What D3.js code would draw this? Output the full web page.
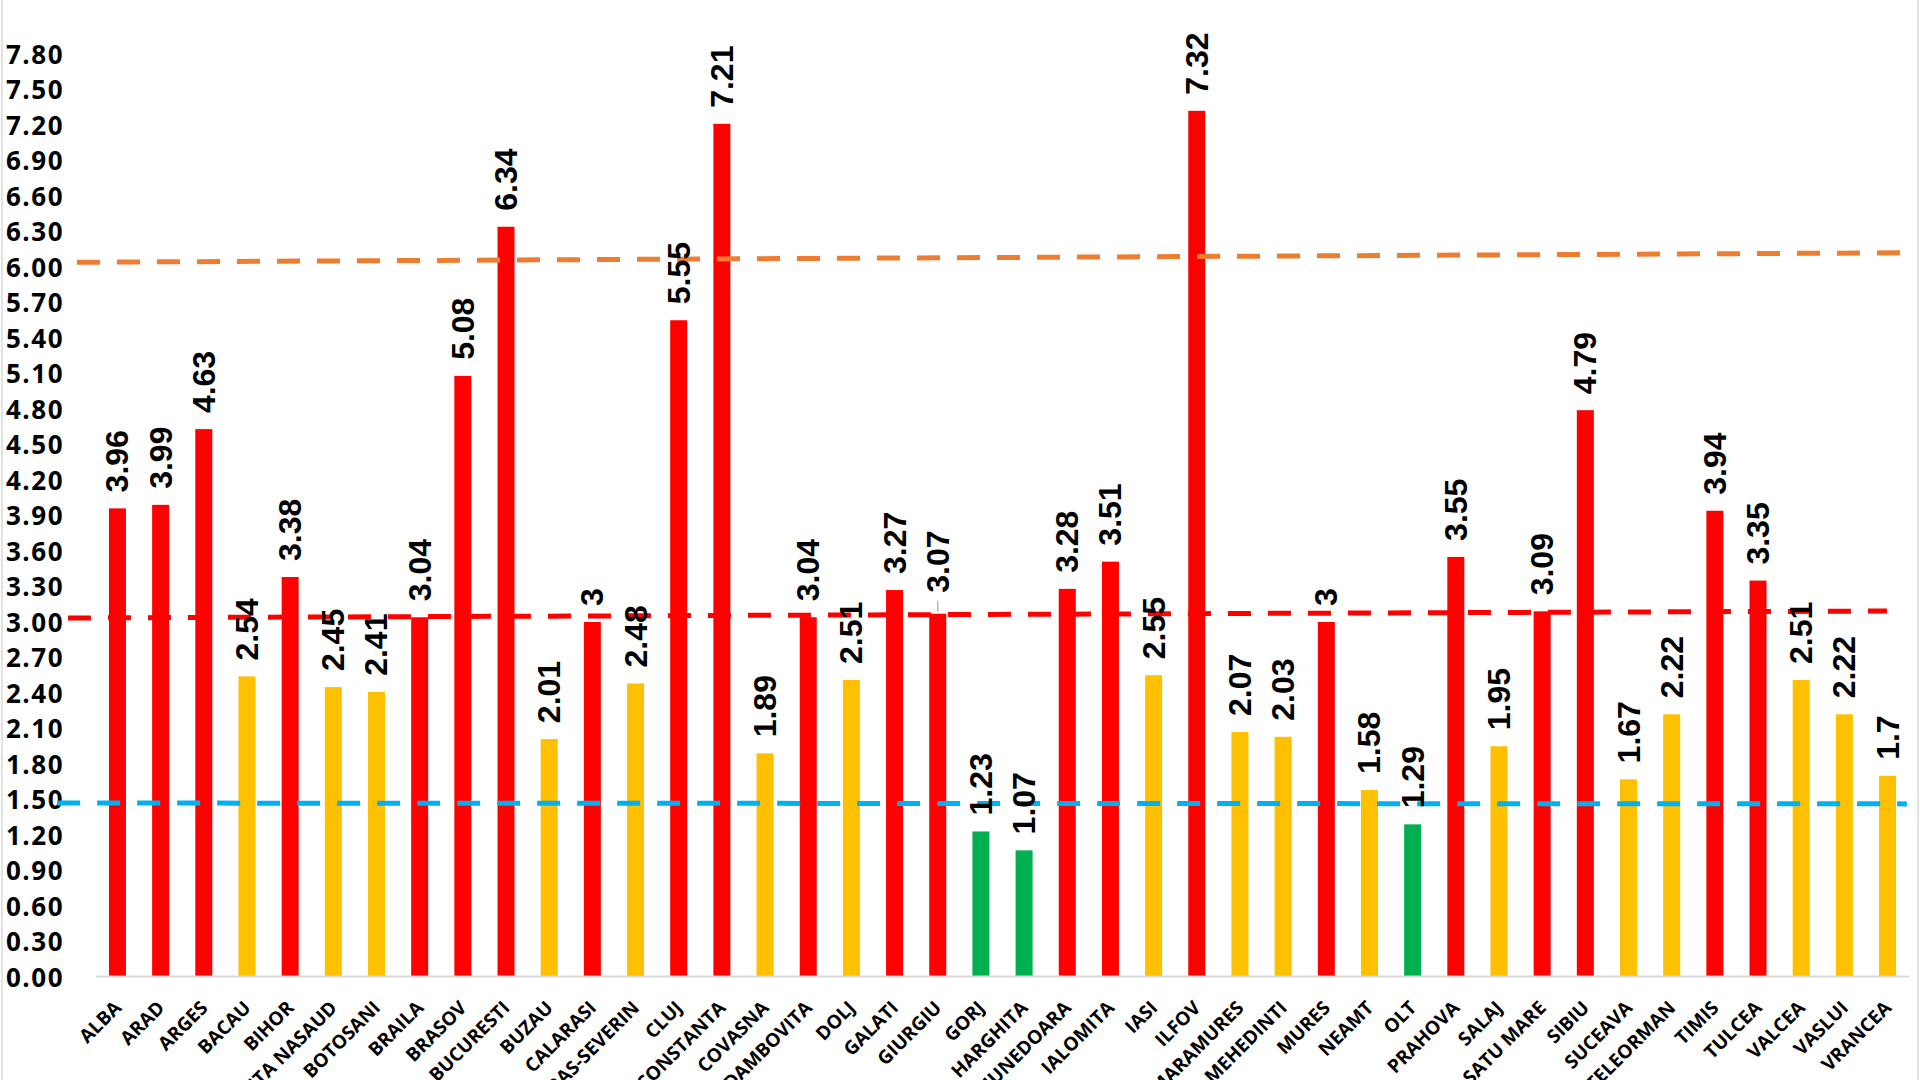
<!DOCTYPE html>
<html>
<head>
<meta charset="utf-8">
<script src="https://cdn.jsdelivr.net/npm/d3@7"></script>
<style>
  html, body { margin: 0; padding: 0; background: #ffffff; overflow: hidden; }
  svg { display: block; }
</style>
</head>
<body>
<svg id="chart" width="1920" height="1080"></svg>
<script>
// ---- data ----
const counties = ["ALBA","ARAD","ARGES","BACAU","BIHOR","BISTRITA NASAUD","BOTOSANI","BRAILA","BRASOV","BUCURESTI",
  "BUZAU","CALARASI","CARAS-SEVERIN","CLUJ","CONSTANTA","COVASNA","DAMBOVITA","DOLJ","GALATI","GIURGIU",
  "GORJ","HARGHITA","HUNEDOARA","IALOMITA","IASI","ILFOV","MARAMURES","MEHEDINTI","MURES","NEAMT",
  "OLT","PRAHOVA","SALAJ","SATU MARE","SIBIU","SUCEAVA","TELEORMAN","TIMIS","TULCEA","VALCEA","VASLUI","VRANCEA"];
const rates = [3.96,3.99,4.63,2.54,3.38,2.45,2.41,3.04,5.08,6.34,
  2.01,3,2.48,5.55,7.21,1.89,3.04,2.51,3.27,3.07,
  1.23,1.07,3.28,3.51,2.55,7.32,2.07,2.03,3,1.58,
  1.29,3.55,1.95,3.09,4.79,1.67,2.22,3.94,3.35,2.51,2.22,1.7];
const yTickLabels = ["0.00","0.30","0.60","0.90","1.20","1.50","1.80","2.10","2.40","2.70","3.00","3.30","3.60",
  "3.90","4.20","4.50","4.80","5.10","5.40","5.70","6.00","6.30","6.60","6.90","7.20","7.50","7.80"];
// threshold reference lines (value at start, value at end, start/end in category units)
const refLineNames  = ["orange", "red", "blue"];
const refLineStartV = [6.04, 3.034, 1.47];
const refLineEndV   = [6.12, 3.093, 1.463];
const refLineStartC = [-0.44, -0.65, -0.9];
const refLineEndC   = [41.88, 41.49, 41.95];
const refLineColors = ["#ED7D31", "#FF0000", "#00B0F0"];
const leaderCounties = ["GIURGIU"];

// ---- layout ----
const svg = d3.select("#chart");
const plotLeft = 96, plotRight = 1909, plotBottom = 977, plotTop = 54;

const x = d3.scaleBand().domain(counties).range([plotLeft, plotRight])
  .paddingInner(0.606).paddingOuter(0.3);
const xc = d3.scaleLinear().domain([0, counties.length]).range([plotLeft, plotRight]);
const y = d3.scaleLinear().domain([0, 7.8]).range([plotBottom, plotTop]);

const colorFor = v => v >= 3 ? "#FF0000" : (v >= 1.5 ? "#FFC000" : "#00B050");

// frame (only side edges visible)
svg.append("rect").attr("x", 2).attr("y", -20).attr("width", 1916).attr("height", 1120)
  .attr("fill", "none").attr("stroke", "#D9D9D9").attr("stroke-width", 1.5);

// y axis labels
const yAxis = d3.axisLeft(y)
  .tickValues(yTickLabels.map(Number))
  .tickFormat((d, i) => yTickLabels[i])
  .tickSize(0).tickPadding(0);
const gy = svg.append("g").attr("transform", `translate(64,0)`).call(yAxis);
gy.select(".domain").remove();
gy.selectAll("text")
  .attr("font-family", "'Open Sans', sans-serif")
  .attr("font-weight", 700)
  .attr("font-size", 26)
  .attr("letter-spacing", 1.5)
  .attr("fill", "#000")
  .attr("dy", "0.36em");

// bars
svg.append("g").selectAll("rect").data(counties).join("rect")
  .attr("x", d => x(d))
  .attr("width", x.bandwidth())
  .attr("y", (d, i) => y(rates[i]))
  .attr("height", (d, i) => y(0) - y(rates[i]))
  .attr("fill", (d, i) => colorFor(rates[i]));

// baseline
svg.append("line")
  .attr("x1", plotLeft).attr("x2", plotRight)
  .attr("y1", y(0) - 0.5).attr("y2", y(0) - 0.5)
  .attr("stroke", "#D9D9D9").attr("stroke-width", 2);

// x axis labels
const xAxis = d3.axisBottom(x).tickSize(0).tickPadding(0);
const gx = svg.append("g").attr("transform", `translate(0,${y(0)})`).call(xAxis);
gx.select(".domain").remove();
gx.selectAll("text")
  .attr("font-family", "'Open Sans', sans-serif")
  .attr("font-weight", 700)
  .attr("font-size", 19)
  .attr("fill", "#000")
  .attr("text-anchor", "end")
  .attr("dy", 0)
  .attr("y", 0)
  .attr("transform", "translate(5,32) rotate(-45)");

// reference dashed lines
svg.append("g").selectAll("line").data(refLineNames).join("line")
  .attr("x1", (d, i) => xc(refLineStartC[i]))
  .attr("x2", (d, i) => xc(refLineEndC[i]))
  .attr("y1", (d, i) => y(refLineStartV[i]))
  .attr("y2", (d, i) => y(refLineEndV[i]))
  .attr("stroke", (d, i) => refLineColors[i])
  .attr("stroke-width", 5)
  .attr("stroke-dasharray", "23,17");

// leader lines
svg.append("g").selectAll("line").data(leaderCounties).join("line")
  .attr("x1", d => x(d) + x.bandwidth() / 2)
  .attr("x2", d => x(d) + x.bandwidth() / 2)
  .attr("y1", d => y(rates[counties.indexOf(d)]) - 2)
  .attr("y2", d => y(rates[counties.indexOf(d)]) - 13)
  .attr("stroke", "#A6A6A6").attr("stroke-width", 1.2);

// value labels
svg.append("g").selectAll("text").data(counties).join("text")
  .attr("transform", (d, i) => {
    const lift = leaderCounties.includes(d) ? 21 : 16;
    return `translate(${x(d) + x.bandwidth() / 2 + 11},${y(rates[i]) - lift}) rotate(-90)`;
  })
  .attr("text-anchor", "start")
  .attr("font-family", "'Liberation Sans', Arial, sans-serif")
  .attr("font-weight", 700)
  .attr("font-size", 32)
  .attr("fill", "#000")
  .text((d, i) => String(rates[i]));
</script>
</body>
</html>
